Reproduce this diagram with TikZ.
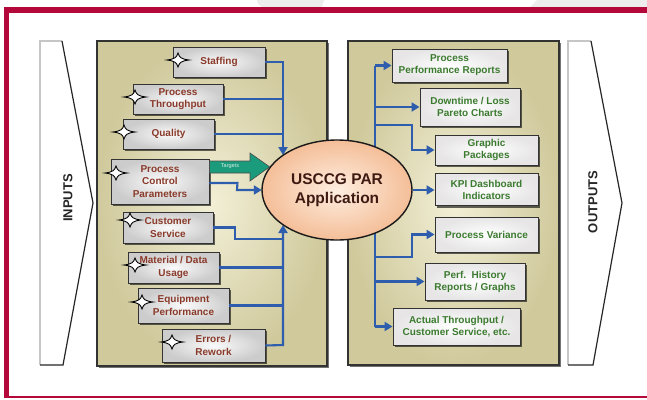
\documentclass[tikz,border=0pt]{standalone}
\usepackage{fontspec}
\setmainfont{Liberation Sans}
\usetikzlibrary{arrows.meta,shapes.geometric,calc,shadows}
\definecolor{redbar}{HTML}{B5083A}
\definecolor{khaki}{HTML}{D0C99C}
\definecolor{khakilight}{HTML}{F2EFD6}
\definecolor{inred}{HTML}{8A3A2A}
\definecolor{outgreen}{HTML}{3B7B2F}
\definecolor{conblue}{HTML}{2E5DAE}
\definecolor{tgreen}{HTML}{1A9B7B}
\definecolor{peach}{HTML}{F4BE98}
\definecolor{peachlight}{HTML}{FEEEE0}
\definecolor{apptext}{HTML}{3F1A12}
\definecolor{topgray}{HTML}{EDEDED}
\tikzset{
  panel/.style={draw=black!80, line width=1.1pt, inner color=khakilight, outer color=khaki,
    drop shadow={shadow xshift=2pt, shadow yshift=-2pt, fill=black, opacity=0.55}},
  inbox/.style={draw=black!80, line width=0.9pt, inner color=white!96!gray, outer color=black!20,
    text=inred, font=\bfseries\fontsize{10}{12.5}\selectfont, align=center, inner sep=0pt,
    drop shadow={shadow xshift=2pt, shadow yshift=-2pt, fill=black, opacity=0.6}},
  outbox/.style={draw=black!80, line width=0.9pt, inner color=white, outer color=red!6!black!10,
    text=outgreen, font=\bfseries\fontsize{10}{12}\selectfont, align=center, inner sep=0pt,
    drop shadow={shadow xshift=2pt, shadow yshift=-2pt, fill=black, opacity=0.6}},
  conn/.style={draw=conblue, line width=2.1pt, -{Triangle[length=8pt,width=9pt]}},
  connl/.style={draw=conblue, line width=2.1pt},
  sidelbl/.style={rotate=90, font=\bfseries\fontsize{13}{13}\selectfont, text=black!85},
  sparkle/.pic={\draw[black, line width=0.9pt, fill=white]
    (-11,0) .. controls (-3,-1) and (-1.5,-2.5) .. (0,-7)
    .. controls (1.5,-2.5) and (3,-1) .. (11,0)
    .. controls (3,1) and (1.5,2.5) .. (0,7)
    .. controls (-1.5,2.5) and (-3,1) .. (-11,0) -- cycle;}
}
\begin{document}
\begin{tikzpicture}[x=1pt,y=-1pt]
\useasboundingbox (0,0) rectangle (647,399);
\fill[white] (0,0) rectangle (647,399);
% faint shapes above the frame
\fill[topgray] (257,0) .. controls (258,4) .. (262,7) -- (322,7) -- (324,0) -- cycle;
\fill[topgray] (537,0) -- (530,7) -- (647,7) -- (647,0) -- cycle;
% red frame
\fill[redbar] (4,7) rectangle (647,13);
\fill[redbar] (4,7) rectangle (8.5,398);
\fill[redbar] (4,396) rectangle (647,398);
% INPUTS / OUTPUTS chevrons
\fill[white] (40,41) -- (62,41) -- (93,203) -- (63,365) -- (40,365) -- cycle;
\draw[gray!45, line width=1.6pt] (40,365) -- (40,41) -- (62,41);
\draw[black!85, line width=1.2pt] (62,41) -- (93,203) -- (63,365) -- (40,365);
\node[sidelbl] (inlbl) at (68,198) {INPUTS};
\fill[white] (568,41) -- (591,41) -- (622,203) -- (593,365) -- (568,365) -- cycle;
\draw[gray!45, line width=1.6pt] (568,365) -- (568,41) -- (591,41);
\draw[black!85, line width=1.2pt] (591,41) -- (622,203) -- (593,365) -- (568,365);
\node[sidelbl] (outlbl) at (593,202) {OUTPUTS};
% panels
\node[panel, minimum width=230pt, minimum height=325pt] (lpanel) at (212,203.5) {};
\node[panel, minimum width=211pt, minimum height=324pt] (rpanel) at (453.5,203) {};
% ellipse placeholder for anchors (drawn later on top)
\path (337,190) node[ellipse, minimum width=150pt, minimum height=100pt, inner sep=0pt] (appb) {};
% junction coordinates
\coordinate (jL1) at (283,62);
\coordinate (jL2) at (283,345);
\coordinate (cc) at (235,239);
\coordinate (pc) at (237,190);
% input boxes
\node[inbox, minimum width=92pt, minimum height=30pt] (staff) at (219,62) {Staffing};
\node[inbox, minimum width=90pt, minimum height=30pt] (thru) at (178,99) {Process\\Throughput};
\node[inbox, minimum width=91pt, minimum height=30pt] (qual) at (168.5,134) {Quality};
\node[inbox, minimum width=98pt, minimum height=45pt] (pcp) at (160,181.5) {Process\\Control\\Parameters};
\node[inbox, minimum width=90pt, minimum height=31pt] (cust) at (168,227.5) {Customer\\Service};
\node[inbox, minimum width=91pt, minimum height=31pt] (mat) at (173.5,267.5) {Material / Data\\Usage};
\node[inbox, minimum width=91pt, minimum height=35pt] (equip) at (183.5,305.5) {Equipment\\Performance};
\node[inbox, minimum width=103pt, minimum height=33pt] (err) at (213.5,345.5) {Errors /\\Rework};
% output boxes
\node[outbox, minimum width=115pt, minimum height=33pt] (ppr) at (449.5,65.5) {Process\\Performance Reports};
\node[outbox, minimum width=100pt, minimum height=38pt] (dtl) at (470,107) {Downtime / Loss\\Pareto Charts};
\node[outbox, minimum width=103pt, minimum height=30pt] (gp) at (486.5,150) {Graphic\\Packages};
\node[outbox, minimum width=103pt, minimum height=32pt] (kpi) at (486.5,189.5) {KPI Dashboard\\Indicators};
\node[outbox, minimum width=103pt, minimum height=35pt] (pv) at (486.5,234.5) {Process Variance};
\node[outbox, minimum width=100pt, minimum height=37pt] (pfh) at (475,281.5) {Perf.\ \ History\\Reports / Graphs};
\node[outbox, minimum width=127pt, minimum height=37pt] (act) at (456.5,326.5) {Actual Throughput /\\Customer Service, etc.};
% left connectors
\draw[connl] (thru.east) -- (thru.east -| jL1);
\draw[connl] (qual.east) -- (qual.east -| jL1);
\draw[conn] (staff.east) -- (jL1) -- (jL1 |- appb.147);
\draw[connl] (mat.east) -- (mat.east -| jL2);
\draw[connl] (equip.east) -- (equip.east -| jL2);
\draw[connl] (cust.east) -- (cust.east -| cc) -- (cc) -- (cc -| jL2);
\draw[conn] (err.east) -- (jL2) -- (jL2 |- appb.213);
\draw[conn] ($(pcp.east)+(0,1.5)$) -- ($(pcp.east)+(28,1.5)$) -- (pc) -- (appb.west);
% right connectors
\coordinate (jR1) at (375,65.5);
\coordinate (jR2) at (375,326.5);
\coordinate (g1) at (412,125);
\coordinate (v1) at (412,257);
\draw[connl] (jR1) -- (jR2);
\draw[conn] (jR1) -- (ppr.west);
\draw[conn] (dtl.west -| jR1) -- (dtl.west);
\draw[conn] (g1 -| jR1) -- (g1) -- (g1 |- gp.west) -- (gp.west);
\draw[conn] (v1 -| jR1) -- (v1) -- (v1 |- pv.west) -- (pv.west);
\draw[conn] (pfh.west -| jR1) -- (pfh.west);
\draw[conn] (jR2) -- (act.west);
% central ellipse
\node[ellipse, minimum width=150pt, minimum height=100pt, inner sep=0pt, draw=black!90, line width=1.4pt,
  inner color=peachlight, outer color=peach, text=apptext, align=center,
  font=\bfseries\fontsize{15.5}{19}\selectfont] (app) at (337,190) {USCCG PAR\\Application};
\draw[conn] (app.east) -- (app.east -| kpi.west);
% Targets arrow
\draw[fill=tgreen, draw=black!70, line width=0.6pt]
  (pcp.east |- 0,161) -- (250,161) -- (250,153) -- (app.161) -- (250,181) -- (250,173) -- (pcp.east |- 0,173) -- cycle;
\node[font=\fontsize{5.5}{6}\selectfont, text=white!85!tgreen] (tgt) at (230,166) {Targets};
% sparkles
\pic at (178,60) {sparkle};
\pic at (135,97) {sparkle};
\pic at (124,132) {sparkle};
\pic at (116,173) {sparkle};
\pic at (130,220) {sparkle};
\pic at (135,265) {sparkle};
\pic at (142,302) {sparkle};
\pic at (172,342) {sparkle};
\end{tikzpicture}
\end{document}
